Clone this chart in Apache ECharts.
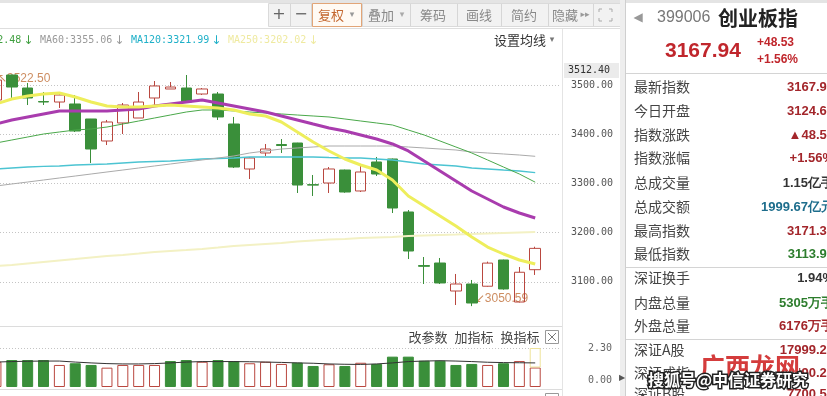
<!DOCTYPE html>
<html><head><meta charset="utf-8">
<script src="https://cdn.jsdelivr.net/npm/echarts@6/dist/echarts.min.js"></script>
<style>html,body{margin:0;padding:0;background:#fff}#c{width:827px;height:396px}</style>
</head><body><div id="c"></div>
<script>
// ---- data ----
const categories = ['1','2','3','4','5','6','7','8','9','10','11','12','13','14','15','16','17','18','19','20','21','22','23','24','25','26','27','28','29','30','31','32','33','34','35','36'];
// [open, close, low, high]
const candles = [
  [3469.5,3510.0,3463.4,3522.5],[3520.3,3495.9,3473.6,3521.0],[3493.9,3473.6,3459.3,3504.1],[3466.4,3465.4,3459.3,3485.8],
  [3465.4,3479.7,3453.3,3483.7],[3461.4,3406.5,3404.5,3479.7],[3430.9,3369.9,3341.5,3431.0],[3386.2,3424.8,3378.0,3428.9],
  [3422.8,3459.3,3400.4,3463.4],[3432.9,3465.4,3432.9,3485.8],[3473.6,3498.0,3455.3,3508.1],[3491.9,3495.9,3491.9,3506.1],
  [3493.9,3465.4,3463.4,3520.3],[3481.7,3491.9,3479.7,3493.9],[3481.7,3435.0,3428.9,3485.8],[3420.7,3333.3,3331.3,3435.0],
  [3329.3,3351.6,3308.9,3353.0],[3361.8,3369.9,3355.7,3380.1],[3379.0,3377.0,3361.8,3390.2],[3382.1,3296.7,3280.5,3382.5],
  [3297.5,3296.5,3274.4,3317.1],[3300.8,3329.3,3280.5,3333.3],[3327.2,3282.5,3281.0,3328.0],[3284.6,3323.2,3282.5,3335.4],
  [3343.5,3319.1,3315.0,3353.7],[3349.6,3250.0,3239.8,3350.5],[3241.9,3162.6,3146.3,3245.9],[3133.0,3131.5,3095.5,3150.4],
  [3138.2,3097.6,3095.5,3148.4],[3081.3,3095.5,3052.8,3115.9],[3095.5,3056.9,3050.59,3103.7],[3091.0,3138.0,3090.0,3141.0],
  [3144.3,3085.4,3084.0,3145.0],[3058.9,3119.41,3058.0,3130.1],[3124.6,3167.94,3113.9,3171.3]
];
const ma5   = [3461.4,3471.5,3477.6,3481.7,3483.7,3475.6,3465.4,3457.3,3455.3,3455.3,3457.3,3459.3,3457.3,3455.3,3453.3,3449.2,3441.1,3437.0,3424.8,3404.5,3384.1,3365.9,3349.6,3337.4,3327.2,3306.9,3274.4,3254.1,3233.7,3213.4,3191.1,3170.7,3156.5,3144.3,3136.2];
const ma10  = [3420.7,3428.9,3435.0,3441.1,3447.2,3447.2,3447.2,3447.2,3449.2,3451.2,3457.3,3461.4,3465.4,3469.5,3463.4,3457.3,3451.2,3445.1,3437.0,3428.9,3420.7,3412.6,3406.5,3398.4,3390.2,3380.1,3365.9,3345.5,3325.2,3304.9,3284.6,3268.3,3252.0,3239.8,3229.7];
const ma30  = [3382.1,3388.2,3394.3,3400.4,3404.5,3408.5,3410.6,3414.6,3420.7,3426.8,3432.9,3439.0,3445.1,3449.2,3449.2,3447.2,3445.1,3443.1,3441.1,3439.0,3437.0,3435.0,3430.9,3426.8,3422.8,3418.7,3408.5,3398.4,3386.2,3374.0,3361.8,3347.6,3333.3,3319.1,3302.48];
const ma60  = [3294.7,3298.8,3302.8,3306.9,3311.0,3315.0,3319.1,3323.2,3327.2,3331.3,3335.4,3339.4,3343.5,3347.6,3351.6,3355.7,3361.8,3365.9,3369.9,3372.0,3374.0,3376.0,3376.0,3376.0,3376.0,3376.0,3374.0,3372.0,3369.9,3367.9,3363.8,3361.8,3359.8,3357.7,3355.06];
const ma120 = [3329.3,3331.3,3333.3,3334.4,3335.4,3337.4,3338.4,3339.4,3341.5,3343.5,3344.5,3345.5,3347.6,3349.6,3350.6,3351.6,3353.7,3353.7,3353.7,3353.7,3353.7,3352.6,3351.6,3351.6,3349.6,3347.6,3343.5,3339.4,3337.4,3335.4,3331.3,3329.3,3327.2,3325.2,3321.99];
const ma250 = [3132.1,3134.1,3137.2,3140.2,3143.3,3146.3,3149.4,3152.4,3154.5,3157.5,3160.6,3162.6,3164.6,3166.7,3169.7,3172.8,3174.8,3176.8,3178.9,3181.9,3184.0,3186.0,3187.0,3189.0,3190.1,3191.1,3193.1,3194.1,3195.1,3196.1,3197.2,3198.2,3199.2,3200.2,3201.2];
const volumes = [1.49,1.59,1.59,1.59,1.30,1.40,1.30,1.14,1.30,1.30,1.30,1.53,1.59,1.49,1.59,1.53,1.40,1.49,1.36,1.44,1.24,1.34,1.24,1.43,1.36,1.79,1.79,1.55,1.55,1.30,1.36,1.30,1.40,1.53,1.15];
const volUp   = [1,0,0,0,1,0,0,1,1,1,1,0,0,1,0,0,1,1,1,0,0,1,0,1,0,0,0,0,0,0,0,1,0,1,1];
const volMa   = [1.47,1.50,1.52,1.53,1.53,1.47,1.42,1.38,1.36,1.36,1.38,1.42,1.47,1.50,1.50,1.50,1.49,1.47,1.45,1.42,1.40,1.36,1.34,1.33,1.36,1.42,1.50,1.53,1.55,1.53,1.50,1.46,1.44,1.43,1.42];
const volEstimate = ['-','-','-','-','-','-','-','-','-','-','-','-','-','-','-','-','-','-','-','-','-','-','-','-','-','-','-','-','-','-','-','-','-','-',1.15];
const extremes = [[0,3522.50,'↖','3522.50'],[30,3050.59,'↙','3050.59']];
const priceTicks = [3100,3200,3300,3400,3500];
const volTicks = [0,2.30];
const maLegend = [
  {name:'MA30', value:'3302.48'},{name:'MA60', value:'3355.06'},{name:'MA120', value:'3321.99'},{name:'MA250', value:'3202.02'}
];
const quoteHeader = {code:'399006', name:'创业板指', last:'3167.94', chg:'+48.53', pct:'+1.56%'};
const quoteRows = [
  ['最新指数','3167.94','red'],['今日开盘','3124.60','red'],['指数涨跌','▲48.53','red'],['指数涨幅','+1.56%','red'],
  ['总成交量','1.15亿手','black'],['总成交额','1999.67亿元','teal'],['最高指数','3171.30','red'],['最低指数','3113.90','green'],
  ['深证换手','1.94%','black'],['内盘总量','5305万手','green'],['外盘总量','6176万手','red'],
  ['深证A股','17999.24','red'],['深证成指','11490.23','red'],['深证B股','7700.51','red']
];
const toolbarItems = ['筹码','画线','简约'];
const indicatorTools = ['改参数','加指标','换指标'];

// ---- styles ----
const UP = '#b9473f', DOWN = '#3a8f3a';
const CJK = '"Noto Sans CJK SC", sans-serif';
const MONO = '"DejaVu Sans Mono", monospace';
const ARIAL = '"Liberation Sans", Arial, sans-serif';
const valColor = {red:'#a3262b', black:'#333', teal:'#1d6d8c', green:'#2d7d2d'};

function T(text, x, y, fill, font, align, z) {
  return {type:'text', x:x, y:y, silent:true, z: z||50,
    style:{text:text, fill:fill, font:font, align:align||'left', verticalAlign:'middle', textAlign:align||'left', textVerticalAlign:'middle'}};
}
function L(x1,y1,x2,y2,stroke,w,z){ return {type:'line', silent:true, z:z||40, shape:{x1,y1,x2,y2}, style:{stroke:stroke, lineWidth:w||1}}; }
function R(x,y,w,h,fill,stroke,z){ return {type:'rect', silent:true, z:z||30, shape:{x,y,width:w,height:h}, style:{fill:fill, stroke:stroke||null, lineWidth:1}}; }

const g = [];
g.push(R(0,0,827,3,'#e4e4e4'));
g.push(R(268.5,3.5,352,23,'#f2f2f2','#dadada'));
g.push(L(0,28.5,620,28.5,'#dedede'));
g.push(L(562.5,29,562.5,396,'#e4e4e4'));
g.push(R(620,0,6,396,'#eeeeee'));
g.push(L(625.5,0,625.5,396,'#cfcfcf'));
g.push(L(0,326.5,562,326.5,'#dcdcdc'));
g.push(L(0,389.5,562,389.5,'#dcdcdc'));
[73.5,267.5,339.5].forEach(y=>g.push(L(626,y,827,y,'#d4d4d4')));
[290.5,311.5,362.5,410.5,457.5,501.5,548.5,593.5].forEach(x=>g.push(L(x,4,x,26,'#d6d6d6')));
g.push(R(312.5,3.5,49,23,'#fffaf4','#e2a577',35));
g.push(T('+',279,15,'#666','16px "DejaVu Sans"','center'));
g.push(T('−',301,15,'#666','16px "DejaVu Sans"','center'));
g.push(T('复权',331,15,'#c4672f','13px '+CJK,'center'));
g.push(T('▾',352,15,'#999','9px "DejaVu Sans"','center'));
g.push(T('叠加',381,15,'#888','13px '+CJK,'center'));
g.push(T('▾',402,15,'#aaa','9px "DejaVu Sans"','center'));
toolbarItems.forEach((t,i)=>g.push(T(t,[433,479,524][i],15,'#888','13px '+CJK,'center')));
g.push(T('隐藏',565,15,'#888','13px '+CJK,'center'));
g.push(T('▸▸',585,15,'#999','9px "DejaVu Sans"','center'));
[[[599,12],[599,9],[602,9]],[[609,9],[612,9],[612,12]],[[599,18],[599,21],[602,21]],[[609,21],[612,21],[612,18]]]
  .forEach(p=>g.push({type:'polyline',silent:true,z:40,shape:{points:p},style:{stroke:'#aaa',lineWidth:1,fill:null}}));
const legendColors = ['#3f9f3f','#9a9a9a','#1fb0c8','#efeaa0'];
const legendX = [-51,40,131,228];
maLegend.forEach((m,i)=>{
  const s = m.name+':'+m.value;
  g.push(T(s,legendX[i],40,legendColors[i],'10px '+MONO,'left'));
  g.push(T('↓',legendX[i]+s.length*6.02+7,41,legendColors[i],'12px "DejaVu Sans"','center'));
});
g.push(T('设置均线',520,40,'#333','13px '+CJK,'center'));
g.push(T('▾',552,40,'#777','9px "DejaVu Sans"','center'));
g.push(R(564,63,55,15,'#ebebeb',null,35));
g.push(T('3512.40',568,70.5,'#333','10px '+MONO,'left'));
indicatorTools.forEach((t,i)=>{
  g.push(T(t,[428,474,520][i],337,'#444','13px '+CJK,'center'));
  g.push(T(t,[428,474,520][i],402,'#444','13px '+CJK,'center'));
});
g.push(R(545.5,330.5,13,13,'#fff','#999',35));
g.push(L(548,333,556,341,'#777')); g.push(L(556,333,548,341,'#777'));
g.push(R(545.5,393.5,13,13,'#fff','#999',35));
g.push(T('◀',638,18,'#999','12px "DejaVu Sans"','center'));
g.push(T(quoteHeader.code,657,18,'#777','16px '+ARIAL,'left'));
g.push(T(quoteHeader.name,718,18,'#222','bold 20px '+CJK,'left'));
g.push(T(quoteHeader.last,665,51,'#c0262c','bold 21px '+ARIAL,'left'));
g.push(T(quoteHeader.chg,757,43,'#c0262c','bold 12px '+ARIAL,'left'));
g.push(T(quoteHeader.pct,757,60,'#c0262c','bold 12px '+ARIAL,'left'));
const rowY = [87,111,135,158,183,207,231,254,278,303,326,350,373,394];
quoteRows.forEach((r,i)=>{
  g.push(T(r[0],634,rowY[i],'#444','14px '+CJK,'left'));
  g.push(T(r[1],834,rowY[i],valColor[r[2]],'bold 13px '+ARIAL,'right'));
});
g.push(T('▶',622,378,'#555','8px "DejaVu Sans"','center'));
g.push({type:'text',x:700,y:366,silent:true,z:60,style:{text:'广西龙网',fill:'#d43c3c',stroke:'#ffffff',lineWidth:2,font:'bold 25px '+CJK,align:'left',verticalAlign:'middle',textAlign:'left',textVerticalAlign:'middle'}});
g.push({type:'text',x:648,y:380,silent:true,z:61,style:{text:'搜狐号@中信证券研究',fill:'#ffffff',stroke:'#222222',lineWidth:3,font:'bold 16px '+CJK,align:'left',verticalAlign:'middle',textAlign:'left',textVerticalAlign:'middle'}});

const chart = echarts.init(document.getElementById('c'), null, {renderer:'canvas'});
chart.setOption({
  animation:false,
  backgroundColor:'#ffffff',
  grid:[
    {left:-12, right:268, top:60.4, height:270.6, outerBoundsMode:'none', containLabel:false},
    {left:-12, right:268, top:348, height:39, outerBoundsMode:'none', containLabel:false}
  ],
  xAxis:[
    {type:'category', gridIndex:0, data:categories, boundaryGap:true, axisLine:{show:false}, axisTick:{show:false}, axisLabel:{show:false}, splitLine:{show:false}},
    {type:'category', gridIndex:1, data:categories, boundaryGap:true, axisLine:{show:false}, axisTick:{show:false}, axisLabel:{show:false}, splitLine:{show:false}}
  ],
  yAxis:[
    {type:'value', gridIndex:0, position:'right', min:3000, max:3550, interval:100, scale:true,
      axisLine:{show:false}, axisTick:{show:false},
      axisLabel:{margin:12, color:'#555', fontFamily:'DejaVu Sans Mono', fontSize:10, showMaxLabel:false,
        formatter:v=> priceTicks.indexOf(v)>=0 ? v.toFixed(2) : ''},
      splitLine:{show:true, lineStyle:{type:[1,2], width:1, color:['rgba(0,0,0,0)','#c4c4c4','#c4c4c4','#c4c4c4','#c4c4c4','#c4c4c4','rgba(0,0,0,0)']}}},
    {type:'value', gridIndex:1, position:'right', min:volTicks[0], max:volTicks[1], interval:volTicks[1],
      axisLine:{show:false}, axisTick:{show:false},
      axisLabel:{margin:29, color:'#666', fontFamily:'DejaVu Sans Mono', fontSize:10,
        formatter:v=> v===0 ? '{z|0.00}' : v.toFixed(2), rich:{z:{padding:[0,0,14,0], color:'#666', fontFamily:'DejaVu Sans Mono', fontSize:10}}},
      splitLine:{show:true, lineStyle:{type:[1,2], color:['rgba(0,0,0,0)','#c4c4c4']}}}
  ],
  series:[
    {type:'scatter', name:'extremes', xAxisIndex:0, yAxisIndex:0, z:1, symbolSize:0,
      data: extremes.map(e=>({value:[e[0],e[1]], label:{formatter:'{a|'+e[2]+'}{b|'+e[3]+'}', offset: e[0]===0 ? [-2,5] : [0,-7]}})),
      label:{show:true, position:'right', distance:3,
        rich:{a:{color:'#c0703a', fontSize:12, fontFamily:'DejaVu Sans'}, b:{color:'#c0703a', fontSize:12, fontFamily:'Liberation Sans'}}}},
    {type:'candlestick', name:'K', xAxisIndex:0, yAxisIndex:0, z:3, barWidth:11, data:candles,
      itemStyle:{color:'rgba(255,255,255,0)', color0:DOWN, borderColor:UP, borderColor0:DOWN, borderWidth:1}},
    {type:'line', name:'MA250', data:ma250, xAxisIndex:0, yAxisIndex:0, z:4, symbol:'none', lineStyle:{color:'#f3f1c4', width:2}},
    {type:'line', name:'MA120', data:ma120, xAxisIndex:0, yAxisIndex:0, z:4, symbol:'none', lineStyle:{color:'#4cc4d2', width:1.3}},
    {type:'line', name:'MA60', data:ma60, xAxisIndex:0, yAxisIndex:0, z:4, symbol:'none', lineStyle:{color:'#aaaaaa', width:1}},
    {type:'line', name:'MA30', data:ma30, xAxisIndex:0, yAxisIndex:0, z:4, symbol:'none', lineStyle:{color:'#4aa84a', width:1}},
    {type:'line', name:'MA10', data:ma10, xAxisIndex:0, yAxisIndex:0, z:4, symbol:'none', lineStyle:{color:'#a93cae', width:3}},
    {type:'line', name:'MA5', data:ma5, xAxisIndex:0, yAxisIndex:0, z:4, symbol:'none', lineStyle:{color:'#eeee5c', width:3}},
    {type:'bar', name:'VOL', xAxisIndex:1, yAxisIndex:1, stack:'v', barWidth:11, z:3,
      data: volumes.map((v,i)=>({value:v, itemStyle: volUp[i] ? {color:'#ffffff', borderColor:UP, borderWidth:1} : {color:DOWN, borderColor:DOWN, borderWidth:1}}))},
    {type:'bar', name:'VOL_EST', xAxisIndex:1, yAxisIndex:1, stack:'v', barWidth:11, z:3, data:volEstimate,
      itemStyle:{color:'rgba(255,255,255,0)', borderColor:'#eee39a', borderWidth:1}},
    {type:'line', name:'VOLMA', data:volMa, xAxisIndex:1, yAxisIndex:1, z:4, symbol:'none', lineStyle:{color:'#333', width:1}}
  ],
  graphic:{elements:g}
});
</script></body></html>
